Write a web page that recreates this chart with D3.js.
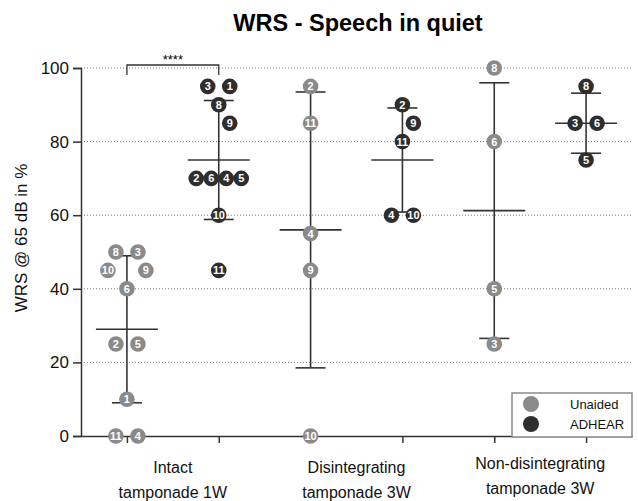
<!DOCTYPE html>
<html>
<head>
<meta charset="utf-8">
<script src="https://cdn.jsdelivr.net/npm/d3@7"></script>
<style>
  body { margin: 0; background: #fff; }
  svg { font-family: "Liberation Sans", Arial, sans-serif; }
</style>
</head>
<body>
<svg id="chart"></svg>
<script>
// subject id, WRS value (%)
const intactUnaided    = [[8, 50], [3, 50], [10, 45], [9, 45], [6, 40], [2, 25], [5, 25], [1, 10], [11, 0], [4, 0]];
const intactAdhear     = [[3, 95], [1, 95], [8, 90], [9, 85], [2, 70], [6, 70], [4, 70], [5, 70], [10, 60], [11, 45]];
const disintUnaided    = [[2, 95], [11, 85], [4, 55], [9, 45], [10, 0]];
const disintAdhear     = [[2, 90], [9, 85], [11, 80], [4, 60], [10, 60]];
const nonDisintUnaided = [[8, 100], [6, 80], [5, 40], [3, 25]];
const nonDisintAdhear  = [[8, 95], [3, 85], [6, 85], [5, 75]];

const groupLabels = [["Intact", "tamponade 1W"], ["Disintegrating", "tamponade 3W"], ["Non-disintegrating", "tamponade 3W"]];
const conditions = ["Unaided", "ADHEAR"];
const yTicks = [0, 20, 40, 60, 80, 100];
const sigLabel = "****";

const series = [
  { key: "iu", cond: 0, pts: intactUnaided },
  { key: "ia", cond: 1, pts: intactAdhear },
  { key: "du", cond: 0, pts: disintUnaided },
  { key: "da", cond: 1, pts: disintAdhear },
  { key: "nu", cond: 0, pts: nonDisintUnaided },
  { key: "na", cond: 1, pts: nonDisintAdhear }
];

const width = 638, height = 501;
const plotL = 81, plotR = 632, plotT = 68, plotB = 436;
const fill = ["#8a8a8a", "#2e2e2e"];
const ink = "#333";

const svg = d3.select("#chart").attr("width", width).attr("height", height);

const x = d3.scalePoint().domain(series.map(d => d.key)).range([plotL, plotR]).padding(0.5);
const y = d3.scaleLinear().domain([0, 100]).range([plotB, plotT]);

// title
svg.append("text")
  .attr("x", 358).attr("y", 31)
  .attr("text-anchor", "middle")
  .style("font-size", "23.5px").style("font-weight", "bold")
  .text("WRS - Speech in quiet");

// dotted grid
svg.append("g")
  .selectAll("line")
  .data(yTicks.filter(t => t > 0))
  .enter().append("line")
  .attr("x1", plotL).attr("x2", plotR)
  .attr("y1", d => y(d)).attr("y2", d => y(d))
  .attr("stroke", "#777").attr("stroke-width", 1)
  .attr("stroke-dasharray", "1,2");

// y axis
const yAxis = svg.append("g")
  .attr("transform", "translate(" + plotL + ",0)")
  .call(d3.axisLeft(y).tickValues(yTicks).tickSize(8).tickPadding(4));
yAxis.select(".domain").attr("stroke", ink).attr("stroke-width", 1.5);
yAxis.selectAll(".tick line").attr("stroke", ink).attr("stroke-width", 1.5);
yAxis.selectAll(".tick text").style("font-size", "17px").attr("fill", "#111")
  .style("font-family", "'Liberation Sans', Arial, sans-serif");

svg.append("text")
  .attr("transform", "translate(27,238) rotate(-90)")
  .attr("text-anchor", "middle")
  .style("font-size", "17px").attr("fill", "#111")
  .text("WRS @ 65 dB in %");

// x axis
const xAxis = svg.append("g")
  .attr("transform", "translate(0," + plotB + ")")
  .call(d3.axisBottom(x).tickSize(7).tickSizeOuter(0).tickFormat(""));
xAxis.select(".domain").attr("stroke", ink).attr("stroke-width", 1.5);
xAxis.selectAll(".tick line").attr("stroke", ink).attr("stroke-width", 1.5);

groupLabels.forEach((lines, g) => {
  const cx = (x(series[g * 2].key) + x(series[g * 2 + 1].key)) / 2;
  const t = svg.append("text")
    .attr("x", cx).attr("y", g === 2 ? 469 : 473)
    .attr("text-anchor", "middle")
    .style("font-size", "16px").attr("fill", "#111");
  lines.forEach((ln, i) => {
    t.append("tspan").attr("x", cx).attr("dy", i === 0 ? 0 : 24.5).text(ln);
  });
});

// significance bracket
const sx1 = x("iu"), sx2 = x("ia"), sy = y(100) - 3;
svg.append("path")
  .attr("d", "M" + sx1 + "," + (sy + 10) + "V" + sy + "H" + sx2 + "V" + (sy + 10))
  .attr("fill", "none").attr("stroke", ink).attr("stroke-width", 1.3);
svg.append("text")
  .attr("x", (sx1 + sx2) / 2).attr("y", sy - 1)
  .attr("text-anchor", "middle")
  .style("font-size", "13px")
  .text(sigLabel);

// mean +- SD
const stats = svg.append("g");
series.forEach(s => {
  const vals = s.pts.map(p => p[1]);
  const m = d3.mean(vals), sd = d3.deviation(vals);
  const cx = x(s.key);
  stats.append("line").attr("x1", cx).attr("x2", cx).attr("y1", y(m + sd)).attr("y2", y(m - sd));
  stats.append("line").attr("x1", cx - 15).attr("x2", cx + 15).attr("y1", y(m + sd)).attr("y2", y(m + sd));
  stats.append("line").attr("x1", cx - 15).attr("x2", cx + 15).attr("y1", y(m - sd)).attr("y2", y(m - sd));
  stats.append("line").attr("x1", cx - 31).attr("x2", cx + 31).attr("y1", y(m)).attr("y2", y(m));
});
stats.selectAll("line").attr("stroke", ink).attr("stroke-width", 1.6);

// scatter spreading: equal values sit side by side, close neighbours get nudged aside
const pointR = 7.8, minDist = 20;
function spread(pts, cx) {
  const placed = [];
  const clear = (px, py) => placed.every(p => Math.hypot(p.x - px, p.y - py) >= minDist);
  const rows = d3.groups(pts, p => p[1]);
  rows.forEach(([v, row]) => {
    const py = y(v);
    let offs;
    if (row.length === 1) {
      offs = [0];
      for (const o of [0, 11, -11, 22, -22, 33, -33]) {
        if (clear(cx + o, py)) { offs = [o]; break; }
      }
    } else {
      let step = row.length === 2 ? 22 : 15;
      const make = st => row.map((p, k) => (k - (row.length - 1) / 2) * st);
      offs = make(step);
      while (!offs.every(o => clear(cx + o, py)) && step < 60) {
        step += 1;
        offs = make(step);
      }
    }
    row.forEach((p, k) => placed.push({ id: p[0], v: v, x: cx + offs[k], y: py }));
  });
  return placed;
}

series.forEach(s => {
  const nodes = spread(s.pts, x(s.key));
  const g = svg.append("g")
    .selectAll("g")
    .data(nodes)
    .enter().append("g")
    .attr("transform", d => "translate(" + d.x + "," + d.y + ")");
  g.append("circle").attr("r", pointR).attr("fill", fill[s.cond]);
  g.append("text")
    .attr("text-anchor", "middle").attr("dy", "0.36em")
    .attr("fill", "#fff")
    .style("font-size", "11px").style("font-weight", "bold")
    .style("font-family", "'Liberation Sans Narrow', 'Liberation Sans', Arial, sans-serif")
    .text(d => d.id);
});

// legend
const lg = svg.append("g").attr("transform", "translate(512,393)");
lg.append("rect").attr("width", 120).attr("height", 44)
  .attr("fill", "#fff").attr("stroke", "#8a8a8a").attr("stroke-width", 1.5);
conditions.forEach((c, i) => {
  lg.append("circle").attr("cx", 19).attr("cy", 11 + i * 20).attr("r", 8).attr("fill", fill[i]);
  lg.append("text").attr("x", 58).attr("y", 15.5 + i * 20)
    .style("font-size", "13px").attr("fill", "#111").text(c);
});
</script>
</body>
</html>
